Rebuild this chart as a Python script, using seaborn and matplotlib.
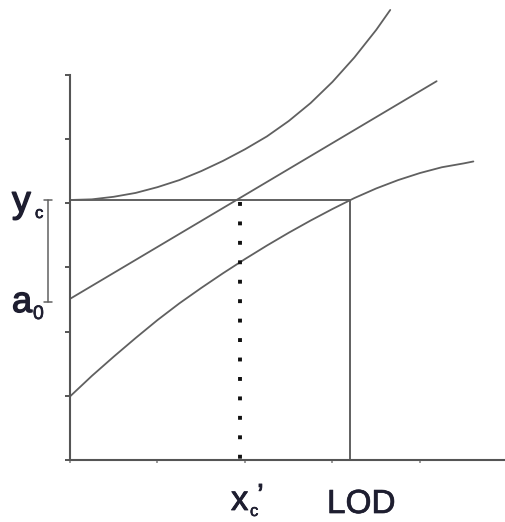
import matplotlib
matplotlib.use("Agg")
import matplotlib.pyplot as plt
import matplotlib.patheffects as pe
import seaborn as sns
import pandas as pd

# ---- data (axis units: 1 tick = 1 unit) ----
upper_x = [0.00, 0.25, 0.50, 0.75, 1.00, 1.25, 1.50, 1.75, 2.00, 2.25,
           2.50, 2.75, 3.00, 3.25, 3.50, 3.66]
upper_y = [4.05, 4.06, 4.10, 4.16, 4.25, 4.36, 4.50, 4.66, 4.84, 5.04,
           5.28, 5.56, 5.89, 6.27, 6.70, 7.01]

mid_x = [0.00, 4.19]
mid_y = [2.51, 5.90]

lower_x = [0.00, 0.25, 0.50, 0.75, 1.00, 1.25, 1.50, 1.75, 2.00, 2.25,
           2.50, 2.75, 3.00, 3.25, 3.50, 3.75, 4.00, 4.25, 4.50, 4.61]
lower_y = [0.99, 1.31, 1.61, 1.90, 2.18, 2.44, 2.68, 2.91, 3.13, 3.34,
           3.54, 3.73, 3.91, 4.08, 4.23, 4.36, 4.47, 4.56, 4.62, 4.65]

y_c = 4.05          # signal at the critical level
a_0 = 2.51          # intercept
x_c = 1.94          # x_c'
lod = 3.20          # LOD

x_ticks = [0, 1, 2, 3, 4]
y_ticks = [0, 1, 2, 3, 4, 5, 6]

# ---- style ----
sns.set_style("white")
plt.rcParams["font.family"] = ["Liberation Sans", "DejaVu Sans"]

W, H = 506, 522
fig = plt.figure(figsize=(W / 100, H / 100), dpi=100)
ax = fig.add_axes([70 / W, 62 / H, 436 / W, 460 / H])
ax.set_xlim(0, 4.983)
ax.set_ylim(0, 7.165)

line_col = "#606060"
axis_col = "#555555"
text_col = "#1e1e30"

curves = pd.DataFrame({
    "x": upper_x + mid_x + lower_x,
    "y": upper_y + mid_y + lower_y,
    "curve": ["upper"] * len(upper_x) + ["mid"] * len(mid_x) + ["lower"] * len(lower_x),
})
sns.lineplot(data=curves, x="x", y="y", units="curve", estimator=None,
             sort=False, color=line_col, lw=1.3, ax=ax, legend=False)

# critical level and LOD construction
ax.plot([0, lod], [y_c, y_c], color=line_col, lw=1.4)
ax.plot([lod, lod], [0, y_c], color=line_col, lw=1.4)
ax.plot([x_c, x_c], [y_c - 0.03, 0], color="#111111", lw=2.8,
        linestyle=(0, (1, 4)), dash_capstyle="butt")

# bracket between a0 and y_c
bx = -0.251
ax.plot([bx, bx], [a_0 - 0.05, y_c], color=line_col, lw=1.1, clip_on=False)
ax.plot([bx - 0.05, bx + 0.05], [y_c, y_c], color=line_col, lw=1.1, clip_on=False)
ax.plot([bx - 0.05, bx + 0.05], [a_0 - 0.05, a_0 - 0.05], color=line_col, lw=1.1, clip_on=False)

# axes
for s in ["top", "right"]:
    ax.spines[s].set_visible(False)
ax.spines["left"].set_bounds(0, 6)
for s in ["left", "bottom"]:
    ax.spines[s].set_color(axis_col)
    ax.spines[s].set_linewidth(1.5)
ax.set_xticks(x_ticks)
ax.set_yticks(y_ticks)
ax.set_xticklabels([])
ax.set_yticklabels([])
ax.tick_params(axis="y", direction="out", length=3.5, width=1.4, color=axis_col, left=True)
ax.tick_params(axis="x", direction="out", length=2.5, width=1.2, color="#8a8a8a", bottom=True)
ax.set_xlabel("")
ax.set_ylabel("")

# labels (figure pixel positions)
def ftext(px, py, s, size, stroke=0.6):
    fig.text(px / W, 1 - py / H, s, fontsize=size, color=text_col,
             ha="left", va="baseline",
             path_effects=[pe.withStroke(linewidth=stroke, foreground=text_col)])

ftext(12, 212, "y", 27, 1.0)
ftext(35, 218, "c", 12, 0.5)
ftext(12, 312, "a", 26, 1.0)
ftext(33, 319, "0", 14, 0.5)
ftext(231, 510, "x", 25, 0.6)
ftext(250, 516, "c", 12, 0.4)
ftext(257, 505, "’", 22, 0.6)
ftext(327, 513, "LOD", 24, 0.5)

fig.savefig("out.png", dpi=100, facecolor="white")
